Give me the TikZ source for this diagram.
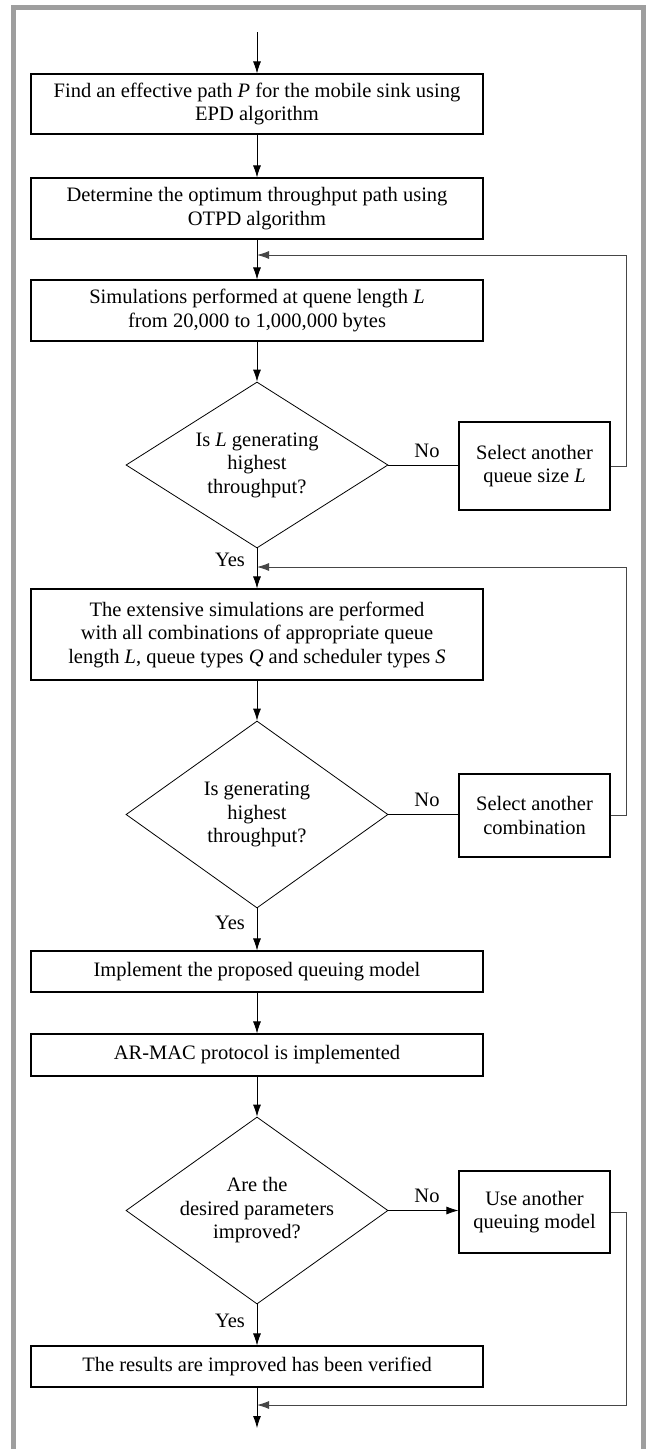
\documentclass[tikz,border=0pt]{standalone}
\usepackage{fontspec}
\setmainfont{Liberation Serif}
\usetikzlibrary{shapes.geometric,arrows.meta}
\definecolor{framegray}{RGB}{158,158,158}
\definecolor{fbgray}{RGB}{70,70,70}
\begin{document}
\begin{tikzpicture}[x=1pt,y=-1pt,
  every node/.style={font=\fontsize{20.5}{23.5}\selectfont},
  proc/.style={draw, line width=1.1pt, minimum width=452pt, inner sep=0pt, align=center},
  side/.style={draw, line width=1.1pt, minimum width=151pt, inner sep=0pt, align=center},
  dec/.style={draw, shape=diamond, line width=0.8pt, minimum width=262pt, inner sep=0pt, aspect=1.5, align=center},
  arr/.style={line width=0.8pt, -{Latex[length=12pt,width=8pt]}},
  plain/.style={line width=0.8pt},
  fb/.style={line width=0.9pt, draw=fbgray, -{Latex[length=12pt,width=8pt]}},
  lbl/.style={inner sep=0pt}
]
\useasboundingbox (0,0) rectangle (646,1449);
% outer frame
\draw[framegray, line width=5pt] (13.5,1470) -- (13.5,7.5) -- (643.5,7.5) -- (643.5,1470);

\coordinate (start) at (257,32);
\node[proc, minimum height=60pt] (b1) at (257,104) {Find an effective path \textit{P} for the mobile sink using\\EPD algorithm};
\node[proc, minimum height=61pt] (b2) at (257,208.5) {Determine the optimum throughput path using\\OTPD algorithm};
\node[proc, minimum height=61pt] (b3) at (257,310.5) {Simulations performed at quene length \textit{L}\\from 20,000 to 1,000,000 bytes};
\node[dec, minimum height=166pt] (d1) at (257,465) {Is \textit{L} generating\\highest\\throughput?};
\node[side, minimum height=88pt] (s1) at (534.5,466) {Select another\\queue size \textit{L}};
\node[proc, minimum height=91pt] (b4) at (257,634.5) {The extensive simulations are performed\\with all combinations of appropriate queue\\length \textit{L}, queue types \textit{Q} and scheduler types \textit{S}};
\node[dec, minimum height=187pt] (d2) at (257,814.5) {Is generating\\highest\\throughput?};
\node[side, minimum height=83pt] (s2) at (534.5,815.5) {Select another\\combination};
\node[proc, minimum height=41pt] (b5) at (257,971.5) {Implement the proposed queuing model};
\node[proc, minimum height=42pt] (b6) at (257,1055) {AR-MAC protocol is implemented};
\node[dec, minimum height=187pt] (d3) at (257,1210.5) {Are the\\desired parameters\\improved?};
\node[side, minimum height=82pt] (s3) at (534.5,1212) {Use another\\queuing model};
\node[proc, minimum height=41pt] (b7) at (257,1366.5) {The results are improved has been verified};
\coordinate (finish) at (257,1428);

\coordinate (j1) at (257,255);
\coordinate (j2) at (257,567);
\coordinate (j3) at (257,1405);

% labels
\node[lbl] (no1) at (427,451) {No};
\node[lbl] (no2) at (427,800) {No};
\node[lbl] (no3) at (427,1196) {No};
\node[lbl] (yes1) at (230,560) {Yes};
\node[lbl] (yes2) at (230,923) {Yes};
\node[lbl] (yes3) at (230,1321) {Yes};

% main flow
\draw[arr] (start) -- (b1);
\draw[arr] (b1) -- (b2);
\draw[arr] (b2) -- (b3);
\draw[arr] (b3) -- (d1);
\draw[arr] (d1.south) -- (b4);
\draw[arr] (b4) -- (d2);
\draw[arr] (d2.south) -- (b5);
\draw[arr] (b5) -- (b6);
\draw[arr] (b6) -- (d3);
\draw[arr] (d3.south) -- (b7);
\draw[arr] (b7) -- (finish);

% no branches
\draw[plain] (d1.east) -- (s1.west |- d1.east);
\draw[plain] (d2.east) -- (s2.west |- d2.east);
\draw[arr] (d3.east) -- (s3.west |- d3.east);

% feedback loops
\draw[fb] (s1.east) -- ++(16,0) |- (j1);
\draw[fb] (s2.east) -- ++(16,0) |- (j2);
\draw[fb] (s3.east) -- ++(16,0) |- (j3);
\end{tikzpicture}
\end{document}
